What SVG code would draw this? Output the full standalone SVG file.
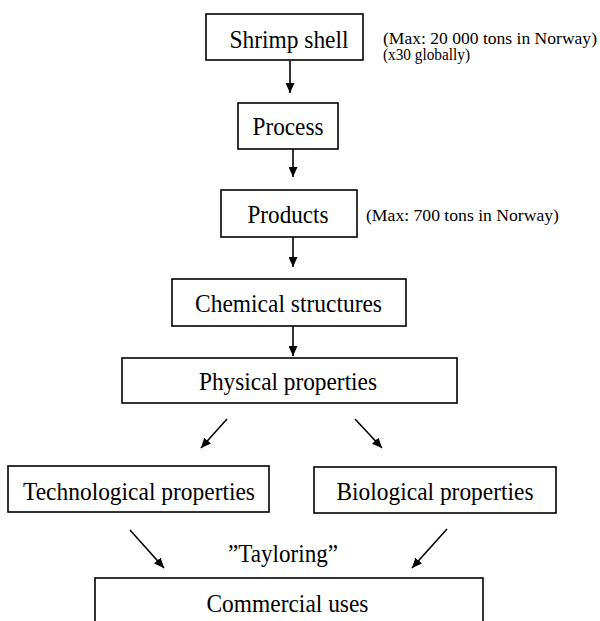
<svg xmlns="http://www.w3.org/2000/svg" width="600" height="621" viewBox="0 0 600 621">
<style>
.box{fill:#fff;stroke:#000;stroke-width:1.6}
.lbl{font-family:"Liberation Serif","Times New Roman",serif;font-size:25px;fill:#000;text-anchor:middle}
.note{font-family:"Liberation Serif","Times New Roman",serif;font-size:16px;fill:#000}
.edge{stroke:#000;stroke-width:1.6;fill:none;marker-end:url(#ah)}
</style>
<defs>
<marker id="ah" markerUnits="userSpaceOnUse" markerWidth="11" markerHeight="9" refX="10" refY="4.5" orient="auto">
<path d="M0,0 L10,4.5 L0,9 z" fill="#000"/>
</marker>
</defs>
<rect width="600" height="621" fill="#fff"/>
<g id="connectors">
<line class="edge" x1="290" y1="61" x2="290" y2="93"/>
<line class="edge" x1="293" y1="149" x2="293" y2="177"/>
<line class="edge" x1="293" y1="237" x2="293" y2="267"/>
<line class="edge" x1="293" y1="326" x2="293" y2="356"/>
<line class="edge" x1="227" y1="419" x2="201" y2="448"/>
<line class="edge" x1="355" y1="419" x2="382" y2="448"/>
<line class="edge" x1="130" y1="530" x2="164" y2="568"/>
<line class="edge" x1="447" y1="529" x2="412" y2="568"/>
</g>
<g id="shrimp">
<rect class="box" x="206" y="14" width="157" height="46"/>
<text class="lbl" x="289" y="48" textLength="119" lengthAdjust="spacingAndGlyphs">Shrimp shell</text>
</g>
<g id="note1">
<text class="note" x="383" y="44" textLength="214" lengthAdjust="spacingAndGlyphs">(Max: 20 000 tons in Norway)</text>
<text class="note" x="383" y="60" textLength="87" lengthAdjust="spacingAndGlyphs">(x30 globally)</text>
</g>
<g id="process">
<rect class="box" x="238" y="103" width="100" height="46"/>
<text class="lbl" x="288" y="135" textLength="71" lengthAdjust="spacingAndGlyphs">Process</text>
</g>
<g id="products">
<rect class="box" x="221" y="190" width="136" height="47"/>
<text class="lbl" x="288" y="223" textLength="81" lengthAdjust="spacingAndGlyphs">Products</text>
</g>
<g id="note2">
<text class="note" x="366" y="221" textLength="193" lengthAdjust="spacingAndGlyphs">(Max: 700 tons in Norway)</text>
</g>
<g id="chemical">
<rect class="box" x="172" y="279" width="234" height="47"/>
<text class="lbl" x="288.5" y="312" textLength="187" lengthAdjust="spacingAndGlyphs">Chemical structures</text>
</g>
<g id="physical">
<rect class="box" x="122" y="358" width="335" height="45"/>
<text class="lbl" x="288" y="390" textLength="178" lengthAdjust="spacingAndGlyphs">Physical properties</text>
</g>
<g id="technological">
<rect class="box" x="8" y="466" width="261" height="46"/>
<text class="lbl" x="139" y="500" textLength="232" lengthAdjust="spacingAndGlyphs">Technological properties</text>
</g>
<g id="biological">
<rect class="box" x="314" y="467" width="242" height="46"/>
<text class="lbl" x="435" y="500" textLength="197" lengthAdjust="spacingAndGlyphs">Biological properties</text>
</g>
<g id="tayloring">
<text class="lbl" x="283" y="562" textLength="110" lengthAdjust="spacingAndGlyphs">”Tayloring”</text>
</g>
<g id="commercial">
<rect class="box" x="95" y="578" width="388" height="60"/>
<text class="lbl" x="287.5" y="612" textLength="162" lengthAdjust="spacingAndGlyphs">Commercial uses</text>
</g>
</svg>
